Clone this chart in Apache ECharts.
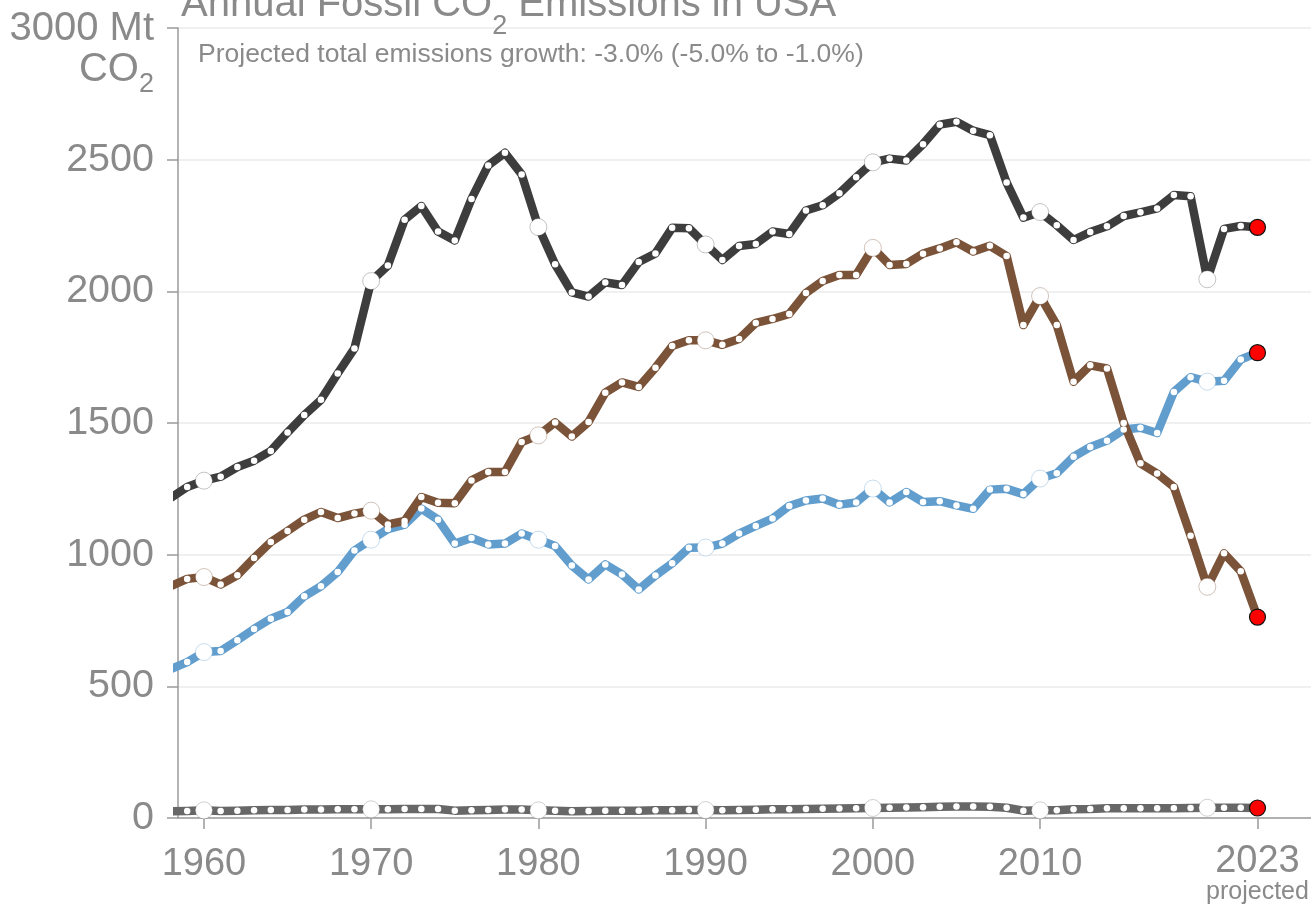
<!DOCTYPE html>
<html>
<head>
<meta charset="utf-8">
<title>Annual Fossil CO2 Emissions in USA</title>
<script src="https://cdn.jsdelivr.net/npm/echarts@6.0.0/dist/echarts.min.js"></script>
<style>
  html, body { margin: 0; padding: 0; background: #fff; }
  #main { width: 1311px; height: 906px; }
</style>
</head>
<body>
<div id="main"></div>
<script>
// years shown on the x axis (1958 is cut by the axis)
var years = [1958,1959,1960,1961,1962,1963,1964,1965,1966,1967,1968,1969,
  1970,1971,1972,1973,1974,1975,1976,1977,1978,1979,
  1980,1981,1982,1983,1984,1985,1986,1987,1988,1989,
  1990,1991,1992,1993,1994,1995,1996,1997,1998,1999,
  2000,2001,2002,2003,2004,2005,2006,2007,2008,2009,
  2010,2011,2012,2013,2014,2015,2016,2017,2018,2019,
  2020,2021,2022,2023];

// Mt CO2
var oil = [1215,1257,1281,1296,1333,1357,1394,1464,1530,1588,1688,1783,
  2039,2098,2272,2324,2227,2193,2351,2478,2526,2444,
  2244,2103,1996,1980,2034,2024,2111,2144,2241,2240,
  2178,2119,2172,2180,2227,2218,2307,2327,2372,2433,
  2490,2504,2497,2559,2633,2644,2610,2593,2413,2280,
  2301,2251,2195,2225,2247,2286,2300,2315,2366,2361,
  2046,2237,2248,2243];

var coal = [880,908,915,887,922,987,1048,1090,1133,1162,1139,1156,
  1167,1115,1128,1219,1197,1195,1282,1314,1314,1428,
  1453,1502,1449,1504,1615,1654,1637,1710,1792,1814,
  1814,1797,1819,1880,1895,1914,1994,2039,2062,2062,
  2165,2100,2104,2143,2163,2186,2151,2173,2134,1872,
  1982,1872,1657,1719,1707,1500,1347,1308,1257,1072,
  878,1005,937,763];

var gas = [565,592,630,634,675,718,757,782,842,880,934,1016,
  1057,1097,1114,1175,1133,1042,1063,1039,1042,1080,
  1057,1033,959,906,963,925,868,921,967,1026,
  1027,1042,1080,1109,1137,1185,1206,1213,1190,1198,
  1251,1198,1238,1200,1203,1187,1174,1247,1250,1230,
  1289,1309,1372,1409,1433,1475,1482,1462,1618,1674,
  1657,1660,1741,1767];

var other = [25,27,29,27,28,29,30,30,32,32,33,33,
  33,33,34,34,34,28,29,30,32,32,
  29,28,26,27,28,28,28,29,29,30,
  30,29,30,31,33,33,34,35,36,37,
  38,39,40,41,43,44,44,43,39,28,
  29,29,33,34,37,37,37,37,37,38,
  39,39,39,38];

var bigYears = [1960,1970,1980,1990,2000,2010,2020];
var projYear = 2023;
var xLabels = [1960,1970,1980,1990,2000,2010,2023];
var yTicks = [0,500,1000,1500,2000,2500,3000];

var FONT = '"Liberation Sans", Helvetica, Arial, sans-serif';
var GREY = '#8a8a8a';

function buildData(vals, ring) {
  var res = [];
  for (var i = 0; i < vals.length; i++) {
    var yr = years[i];
    var item = { value: [yr, vals[i]] };
    if (yr === projYear) {
      item.symbolSize = 16;
      item.itemStyle = { color: '#ff0000', borderColor: '#111', borderWidth: 1.2 };
    } else if (bigYears.indexOf(yr) >= 0) {
      item.symbolSize = 17;
      item.itemStyle = { color: '#fff', borderColor: ring, borderWidth: 1 };
    } else {
      item.symbolSize = 6.5;
      item.itemStyle = { color: '#fff', borderWidth: 0 };
    }
    res.push(item);
  }
  return res;
}

function makeSeries(name, vals, color, ring) {
  return {
    name: name,
    type: 'line',
    data: buildData(vals, ring),
    symbol: 'circle',
    showAllSymbol: true,
    clip: true,
    lineStyle: { color: color, width: 8.5, join: 'round' },
    itemStyle: { color: '#fff' },
    emphasis: { disabled: true },
    silent: true
  };
}

var chart = echarts.init(document.getElementById('main'));

var option = {
  animation: false,
  backgroundColor: '#fff',
  textStyle: { fontFamily: FONT },
  title: [
    {
      text: '{t|Annual Fossil CO}{s|2}{t| Emissions in USA}',
      left: 176,
      top: -23,
      textStyle: {
        fontWeight: 'normal',
        rich: {
          t: { fontFamily: FONT, fontSize: 40, fontWeight: 'normal', color: GREY, lineHeight: 46 },
          s: { fontFamily: FONT, fontSize: 27, fontWeight: 'normal', color: GREY, lineHeight: 46, verticalAlign: 'bottom', padding: [0, 0, -12, 0] }
        }
      }
    },
    {
      text: 'Projected total emissions growth: -3.0% (-5.0% to -1.0%)',
      left: 193,
      top: 36,
      textStyle: { fontFamily: FONT, fontSize: 26.5, fontWeight: 'normal', color: GREY }
    }
  ],
  grid: {
    left: 178,
    right: 0,
    top: 28,
    bottom: 88,
    containLabel: false,
    outerBoundsMode: 'none'
  },
  xAxis: {
    type: 'value',
    min: 1958.45,
    max: 2026.2,
    splitLine: { show: false },
    axisLine: { lineStyle: { color: '#9a9a9a', width: 1.5 } },
    axisTick: {
      customValues: xLabels,
      length: 11,
      lineStyle: { color: '#9a9a9a', width: 1.5 }
    },
    axisLabel: {
      customValues: xLabels,
      margin: 28,
      fontFamily: FONT,
      fontSize: 38,
      color: GREY,
      formatter: function (v) {
        if (v === projYear) return '{y|' + v + '}\n{p|projected}';
        return '' + v;
      },
      rich: {
        y: { fontFamily: FONT, fontSize: 38, color: GREY, lineHeight: 32 },
        p: { fontFamily: FONT, fontSize: 25, color: GREY, lineHeight: 28 }
      }
    }
  },
  yAxis: {
    type: 'value',
    min: 0,
    max: 3000,
    interval: 500,
    axisLine: { show: true, lineStyle: { color: '#9a9a9a', width: 1.5 } },
    axisTick: { show: true, length: 11, lineStyle: { color: '#9a9a9a', width: 1.5 } },
    splitLine: { lineStyle: { color: '#ebebeb', width: 1.5 } },
    axisLabel: {
      margin: 24,
      fontFamily: FONT,
      fontSize: 39.5,
      color: GREY,
      formatter: function (v) {
        if (v === yTicks[yTicks.length - 1]) {
          return '{e| }\n{u|' + v + ' Mt}\n{u|CO}{s|2}';
        }
        return '' + v;
      },
      rich: {
        u: { fontFamily: FONT, fontSize: 40, color: GREY, lineHeight: 41, align: 'right' },
        s: { fontFamily: FONT, fontSize: 27, color: GREY, lineHeight: 41, verticalAlign: 'bottom', padding: [0, 0, -8, 0] },
        e: { fontSize: 10, lineHeight: 42 }
      }
    }
  },
  series: [
    makeSeries('Other', other, '#676767', 'rgba(120,120,120,0.35)'),
    makeSeries('Gas', gas, '#619dcd', 'rgba(97,157,205,0.35)'),
    makeSeries('Coal', coal, '#7a5339', 'rgba(122,83,57,0.35)'),
    makeSeries('Oil', oil, '#3d3d3d', 'rgba(61,61,61,0.3)')
  ]
};

chart.setOption(option);
</script>
</body>
</html>
